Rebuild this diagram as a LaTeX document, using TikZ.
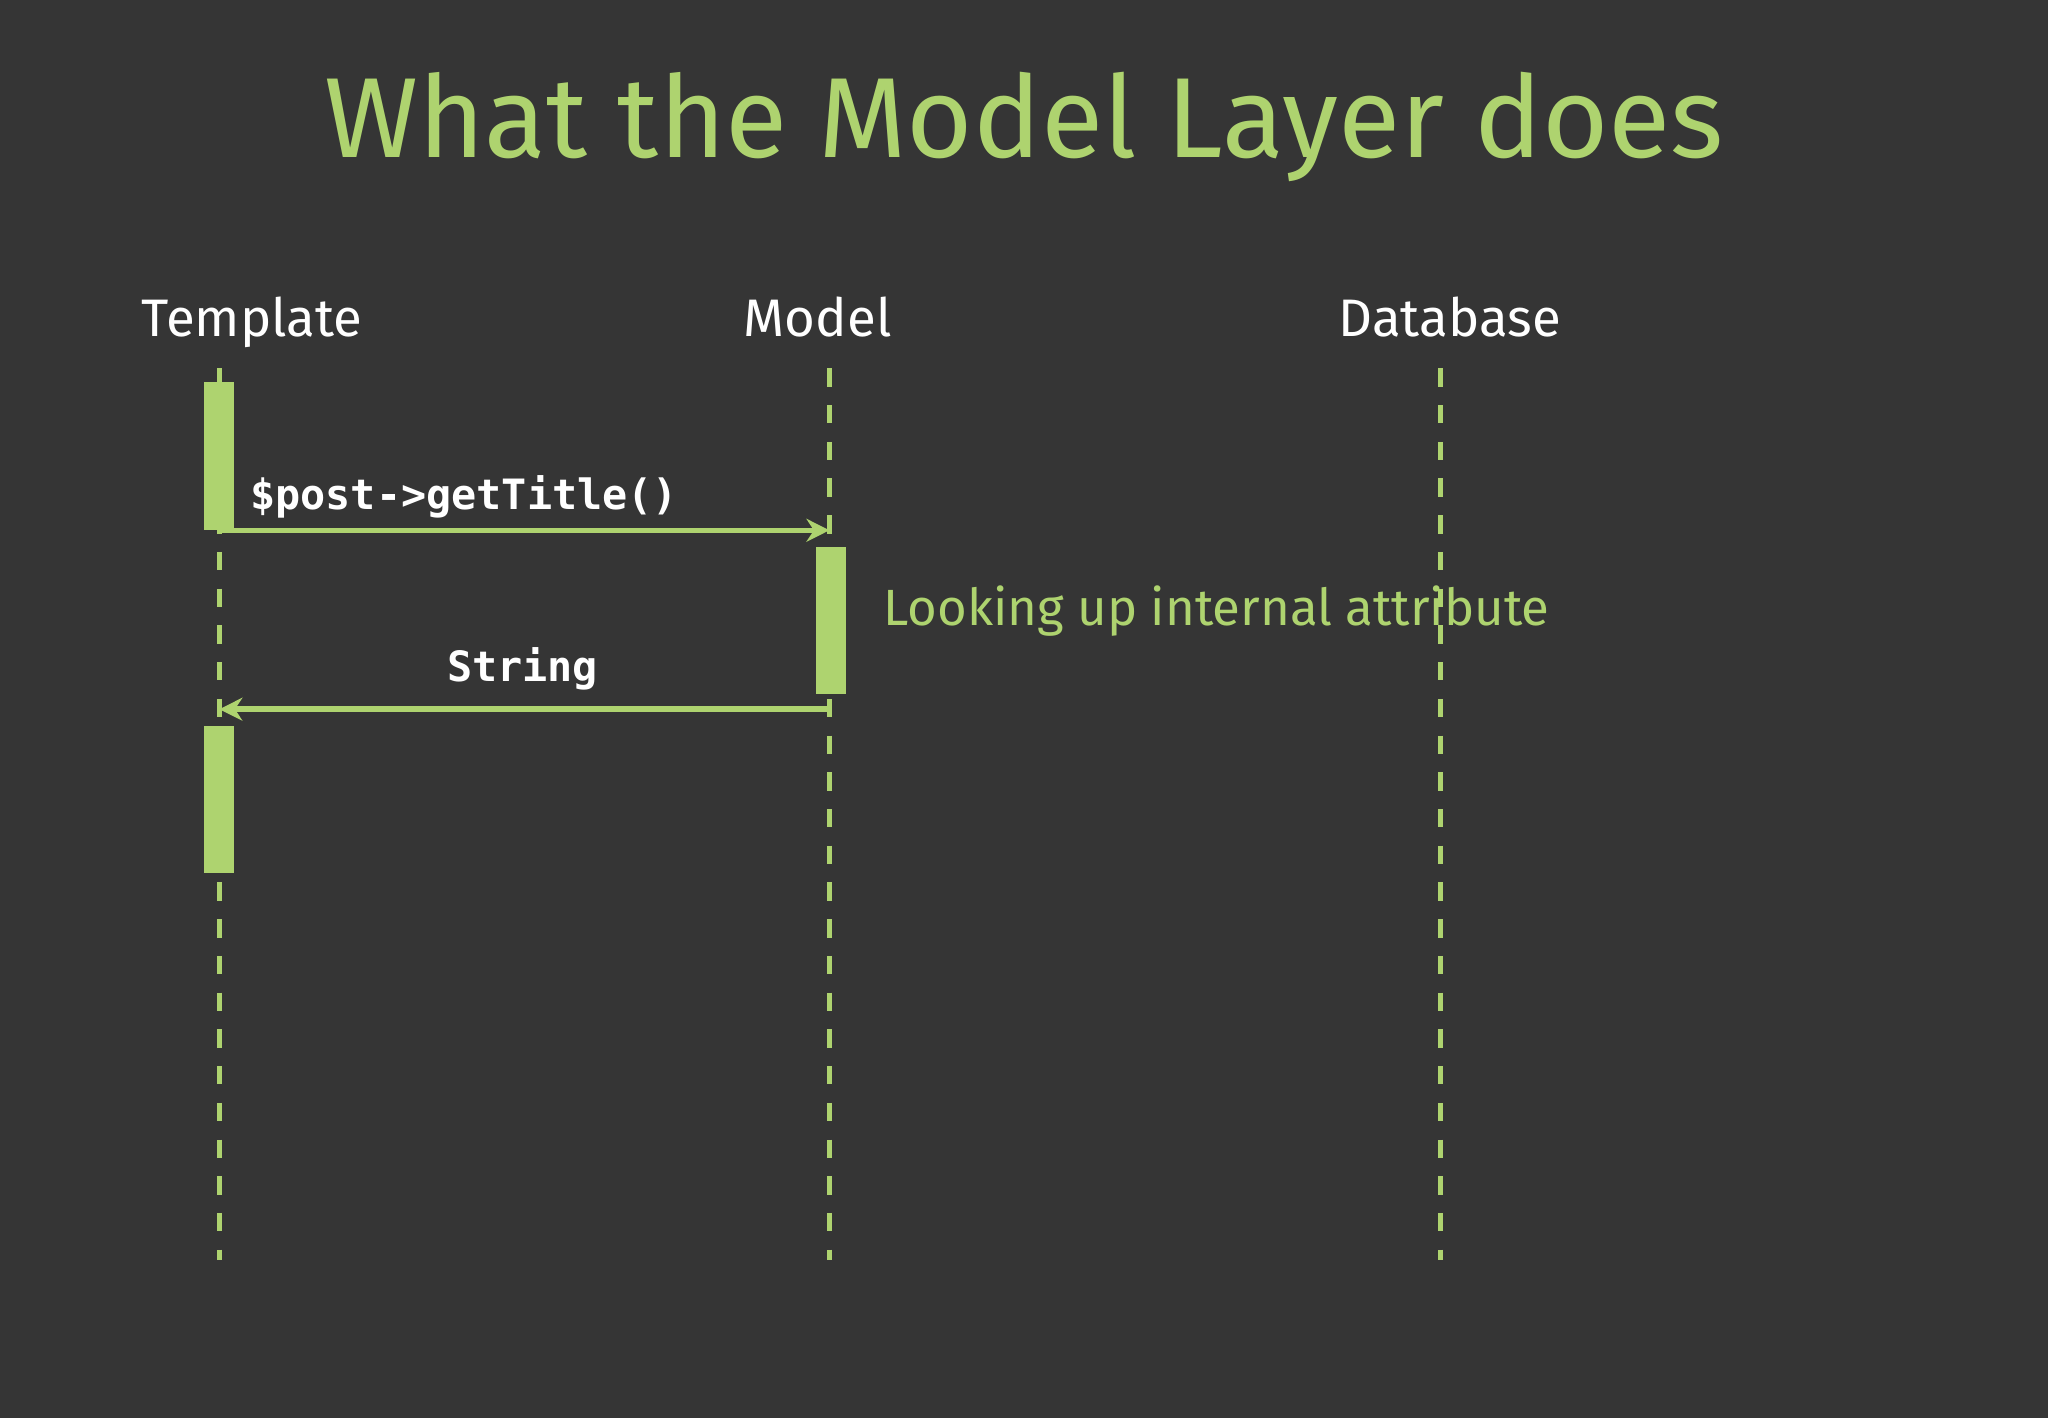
\documentclass[tikz,border=0pt]{standalone}
\usepackage{fontspec}
\setmainfont{Fira Sans}
\setmonofont{DejaVu Sans Mono}
\usetikzlibrary{arrows.meta, positioning}
\definecolor{bg}{HTML}{353535}
\definecolor{lime}{HTML}{AED36F}
\tikzset{
    lifeline/.style={lime, line width=1.1pt, dash pattern=on 4pt off 4pt},
    bar/.style={fill=lime, draw=none, minimum width=0.23cm, inner sep=0pt, anchor=north},
    actor/.style={white, anchor=base, font=\fontsize{11.5}{13}\selectfont},
    msg/.style={lime, line width=1.2pt, -{Stealth[length=5pt,width=5pt]}},
    code/.style={white, font=\ttfamily\bfseries\fontsize{9.1}{11}\selectfont}
}
\begin{document}
\begin{tikzpicture}
        \fill[bg] (0,0) rectangle (15.68,-10.86);
        \useasboundingbox (0,0) rectangle (15.68,-10.86);

        \node[lime, font=\fontsize{24.8}{28}\selectfont] (title) at (7.84,-0.97) {What the Model Layer does};

        % actors
        \node[actor] (template) at (1.93,-2.58) {Template};
        \node[actor] (model) at (6.26,-2.58) {Model};
        \node[actor] (database) at (11.10,-2.58) {Database};

        % lifelines
        \draw[lifeline] (1.68,-2.82) -- (1.68,-9.65);
        \draw[lifeline] (6.35,-2.82) -- (6.35,-9.65);
        \draw[lifeline] (11.03,-2.82) -- (11.03,-9.65);

        % activations
        \node[bar, minimum height=1.13cm] (t1) at (1.68,-2.92) {};
        \node[bar, minimum height=1.13cm] (m1) at (6.36,-4.18) {};
        \node[bar, minimum height=1.13cm] (t2) at (1.68,-5.55) {};

        \coordinate (callstart) at (1.68,-4.06);
        \coordinate (callend) at (6.35,-4.06);
        \coordinate (retstart) at (6.35,-5.43);
        \coordinate (retend) at (1.68,-5.43);

        % messages
        \draw[msg] (callstart) -- (callend);
        \node[code, anchor=base west, inner sep=0pt] (call) at (1.91,-3.90) {\$post->getTitle()};
        \draw[msg] (retstart) -- (retend);
        \node[code, anchor=base, inner sep=0pt] (ret) at (4.00,-5.22) {String};

        \node[lime, anchor=west, font=\fontsize{11.1}{13}\selectfont] (note) at (6.64,-4.68) {Looking up internal attribute};
    \end{tikzpicture}
\end{document}
